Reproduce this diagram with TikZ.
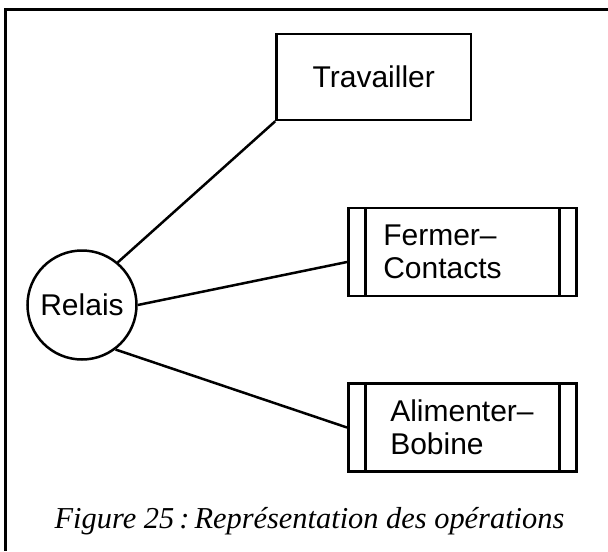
\documentclass[tikz,border=0pt]{standalone}
\usepackage{fontspec}
\setmainfont{Liberation Sans}
\newfontfamily\legendefont{Liberation Serif}
\begin{document}
\begin{tikzpicture}
  [x=0.5pt, y=-0.5pt, line width=1.25pt,
    font=\fontsize{15}{16.5}\selectfont,
    objet/.style={
      circle, draw, minimum size=54.5pt, inner sep=0pt
    },
    operation/.style={
      rectangle, draw, minimum width=97.25pt, minimum height=43pt
    },
    sousop/.style={
      rectangle, draw, minimum width=114pt, minimum height=44pt,
      align=left, inner ysep=0pt,
      path picture={
        \draw ([xshift=8.5pt]path picture bounding box.north west)
          -- ([xshift=8.5pt]path picture bounding box.south west);
        \draw ([xshift=-8.5pt]path picture bounding box.north east)
          -- ([xshift=-8.5pt]path picture bounding box.south east);
      }
    },
  ]
  \useasboundingbox (0,0) rectangle (608,551);

  % Frame
  \draw (608,9.5) -- (5.5,9.5) -- (5.5,551);

  \node[objet] (relais) at (82,305) {Relais};
  \node[operation] (trav) at (373.75,77) {Travailler};
  \node[sousop, inner xsep=17.5pt, text width=79pt] (ferm) at (462.25,252) {Fermer--\\Contacts};
  \node[sousop, inner xsep=21pt, text width=72pt] (alim) at (462.25,427.5) {Alimenter--\\Bobine};

  % Edges between nodes
  \draw (relais.50) -- (trav.south west);
  \draw (relais.east) -- ([yshift=-5pt]ferm.west);
  \draw (relais.-53) -- (alim.west);

  \node[font=\legendefont\itshape\fontsize{15.2}{18}\selectfont, anchor=base] (legende) at (309.5,528)
    {Figure 25\,:\,Représentation des opérations};
\end{tikzpicture}
\end{document}
